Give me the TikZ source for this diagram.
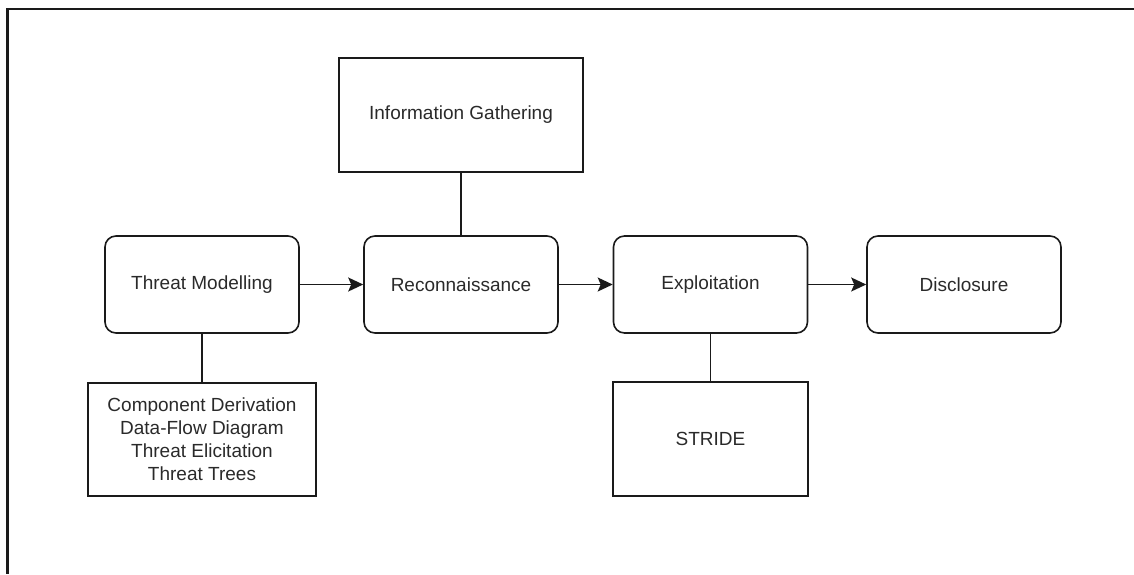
\documentclass[tikz,border=0pt]{standalone}
\usepackage{fontspec}
\setmainfont{Liberation Sans}
\usetikzlibrary{arrows.meta}
\definecolor{ink}{HTML}{1A1A1A}
\definecolor{txt}{HTML}{2A2A2A}
\begin{document}
\begin{tikzpicture}[x=1pt,y=-1pt,
  stage/.style={draw=ink,line width=1.6pt,rounded corners=11pt,minimum width=194pt,minimum height=97pt,inner sep=0pt,font=\fontsize{19}{23}\selectfont,text=txt},
  detail/.style={draw=ink,line width=1.6pt,inner sep=0pt,font=\fontsize{19}{23}\selectfont,text=txt,align=center},
  flow/.style={draw=ink,line width=1.6pt,-{Stealth[length=15pt,width=14pt,inset=3pt]}},
  link/.style={draw=ink,line width=1.6pt}]
\useasboundingbox (0,0) rectangle (1134,574);
% outer frame
\draw[line width=2.2pt,draw=ink] (1134,9) -- (7.5,9) -- (7.5,574);
% main stages
\node[stage] (tm) at (202,284.5) {Threat Modelling};
\node[stage] (rec) at (461,284.5) {Reconnaissance};
\node[stage] (exp) at (710.5,284.5) {Exploitation};
\node[stage] (dis) at (964,284.5) {Disclosure};
% supporting boxes
\node[detail,minimum width=244pt,minimum height=114pt] (ig) at (461,115) {Information Gathering};
\node[detail,minimum width=228pt,minimum height=113pt] (tech) at (202,439.5)
  {Component Derivation\\Data-Flow Diagram\\Threat Elicitation\\Threat Trees};
\node[detail,minimum width=195pt,minimum height=114pt] (stride) at (710.5,439) {STRIDE};
% connectors
\draw[flow] (tm) -- (rec);
\draw[flow] (rec) -- (exp);
\draw[flow] (exp) -- (dis);
\draw[link] (ig) -- (rec);
\draw[link] (tm) -- (tech);
\draw[link] (exp) -- (stride);
\end{tikzpicture}
\end{document}
